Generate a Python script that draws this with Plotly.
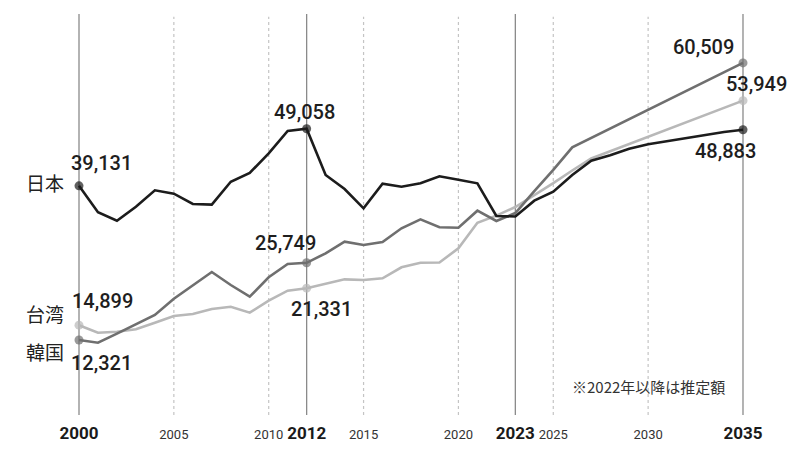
import plotly.graph_objects as go

years = list(range(2000, 2036))

japan = [39131, 34530, 33069, 35504, 38356, 37764, 35973, 35857, 39851, 41364,
         44791, 48669, 49058, 41017, 38582, 35225, 39504, 38982, 39574, 40791,
         40199, 39567, 33886, 33800, 36547, 38112, 41017, 43504, 44443, 45591,
         46356, 46878, 47400, 47974, 48495, 48883]

korea = [12321, 11851, 13417, 15043, 16669, 19504, 21764, 24147, 21887, 19851,
         23225, 25538, 25749, 27399, 29417, 28843, 29365, 31747, 33312, 31917,
         31852, 34808, 33017, 34400, 38200, 41900, 45834, 47460, 49100, 50730,
         52360, 53990, 55620, 57250, 58880, 60509]

taiwan = [14899, 13591, 13764, 14182, 15330, 16495, 16843, 17713, 18113, 17069,
          19156, 20895, 21331, 22060, 22872, 22756, 23051, 24964, 25765, 25800,
          28269, 32700, 33950, 35450, 37500, 39600, 41800, 43900, 45150, 46400,
          47650, 48900, 50150, 51400, 52650, 53949]

country_names = ["日本", "韓国", "台湾"]
highlight_years = [2000, 2012, 2035]
solid_years = [2000, 2012, 2023, 2035]
dotted_years = [2005, 2010, 2015, 2020, 2025, 2030]
tick_vals = [2000, 2005, 2010, 2012, 2015, 2020, 2023, 2025, 2030, 2035]
tick_labels = ["2000", "2005", "2010", "2012", "2015", "2020", "2023", "2025", "2030", "2035"]
note_text = "※2022年以降は推定額"

colors = {"日本": "#1c1c1c", "韓国": "#6f6f6f", "台湾": "#b8b8b8"}
series = {"日本": japan, "韓国": korea, "台湾": taiwan}

fig = go.Figure()

for name in ["台湾", "韓国", "日本"]:
    vals = series[name]
    sizes = [9 if y in highlight_years else 0 for y in years]
    fig.add_trace(go.Scatter(
        x=years, y=vals, mode="lines+markers", name=name,
        line=dict(color=colors[name], width=2.6),
        marker=dict(size=sizes, color=colors[name], line=dict(width=0)),
        hoverinfo="skip", showlegend=False,
    ))

Y_TOP = 69017
Y_BOT = -722
for yr in solid_years:
    fig.add_shape(type="line", x0=yr, x1=yr, y0=Y_BOT, y1=Y_TOP, xref="x", yref="y",
                  line=dict(color="#8a8a8a", width=1.3), layer="below")
for yr in dotted_years:
    fig.add_shape(type="line", x0=yr, x1=yr, y0=Y_BOT, y1=Y_TOP - 500, xref="x", yref="y",
                  line=dict(color="#c4c4c4", width=1.2, dash="dot"), layer="below")

num_font = dict(family="Roboto", size=20, color="#1e1e1e", weight=500)

def val(name, yr):
    return series[name][years.index(yr)]

labels = [
    ("日本", 2000, 22, 23),
    ("日本", 2012, -2, 17),
    ("韓国", 2012, -21, 20),
    ("台湾", 2012, 15, -21),
    ("台湾", 2000, 23, 24),
    ("韓国", 2000, 22, -23),
    ("韓国", 2035, -39, 16),
    ("台湾", 2035, 14, 17),
    ("日本", 2035, -17, -21),
]
for name, yr, dx, dy in labels:
    v = val(name, yr)
    fig.add_annotation(x=yr, y=v, text=f"{v:,}", showarrow=False,
                       xanchor="center", yanchor="middle", xshift=dx, yshift=dy,
                       font=num_font)

name_shifts = {"日本": 3, "台湾": 12, "韓国": -11}
for name in country_names:
    fig.add_annotation(x=2000, y=val(name, 2000), text=name, showarrow=False,
                       xanchor="right", yanchor="middle", xshift=-13, yshift=name_shifts[name],
                       font=dict(family="Noto Sans CJK JP", size=19, color="#222"))

fig.add_annotation(x=2030, y=0.0675, xref="x", yref="paper", text=note_text, showarrow=False,
                   xanchor="center", yanchor="middle",
                   font=dict(family="Noto Sans CJK JP", size=15, color="#333"))

bold_set = {"2000", "2012", "2023", "2035"}
ticktext = [f"<span style='font-size:17px;font-weight:bold;fill:#1a1a1a'>{t}</span>" if t in bold_set else t
            for t in tick_labels]

fig.update_layout(
    width=800, height=460,
    margin=dict(l=0, r=0, t=0, b=45),
    paper_bgcolor="white", plot_bgcolor="white",
    xaxis=dict(range=[1995.836, 2038.005], showgrid=False, zeroline=False, showline=False,
               tickvals=tick_vals, ticktext=ticktext, ticks="", ticklabelstandoff=10,
               tickfont=dict(family="Roboto", size=13, color="#333"), fixedrange=True),
    yaxis=dict(range=[Y_BOT, 71451], visible=False, showgrid=False, zeroline=False, fixedrange=True),
    showlegend=False,
)

fig.write_html("out.html", config={"displayModeBar": False})
